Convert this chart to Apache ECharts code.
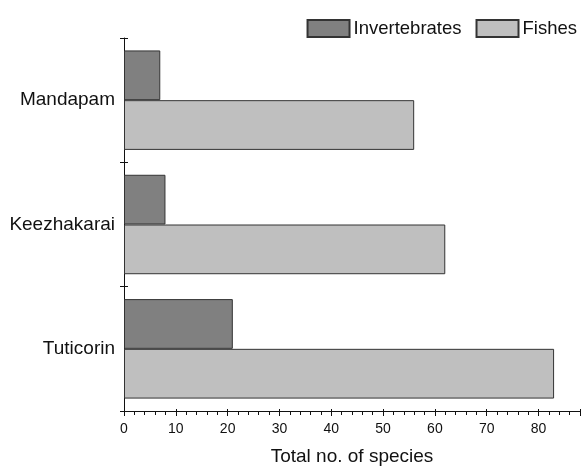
<!DOCTYPE html>
<html>
<head>
<meta charset="utf-8">
<script src="https://cdn.jsdelivr.net/npm/echarts@6/dist/echarts.min.js"></script>
<style>
html,body{margin:0;padding:0;background:#fff;overflow:hidden;}
#chart{width:583px;height:471px;}
</style>
</head>
<body>
<div id="chart"></div>
<script>
// categories from bottom to top
const sites = ['Tuticorin', 'Keezhakarai', 'Mandapam'];
const invertebrates = [21, 8, 7];
const fishes = [83, 62, 56];
const seriesNames = ['Invertebrates', 'Fishes'];
const xTicks = [0, 10, 20, 30, 40, 50, 60, 70, 80];

const chart = echarts.init(document.getElementById('chart'));
const font = 'Liberation Sans, Arial, sans-serif';
const option = {
  backgroundColor: '#fff',
  animation: false,
  legend: {
    data: seriesNames,
    right: 1,
    top: 14,
    itemWidth: 42,
    itemHeight: 17,
    itemGap: 14,
    icon: 'rect',
    textStyle: { fontFamily: font, fontSize: 18.5, color: '#111', padding: [0, 0, 0, -1] }
  },
  grid: { left: 124, top: 38, right: 0, bottom: 57, containLabel: false },
  xAxis: [{
    type: 'value',
    min: 0, max: 88, interval: 10,
    axisLine: { show: true, lineStyle: { color: '#111', width: 1 } },
    axisTick: { show: true, length: 5, lineStyle: { color: '#111' } },
    minorTick: { show: true, splitNumber: 5, length: 4, lineStyle: { color: '#111' } },
    splitLine: { show: false },
    axisLabel: {
      margin: 11, fontFamily: font, fontSize: 14, color: '#111',
      formatter: v => xTicks.indexOf(v) >= 0 ? String(v) : ''
    },
    name: 'Total no. of species',
    nameLocation: 'middle',
    nameGap: 36,
    nameTextStyle: { fontFamily: font, fontSize: 19, color: '#111' }
  }, {
    type: 'value',
    min: 0, max: 88, interval: 10,
    position: 'bottom',
    axisLine: { show: false },
    axisTick: { show: true, inside: true, length: 2, lineStyle: { color: '#111' } },
    splitLine: { show: false },
    axisLabel: { show: false }
  }],
  yAxis: [{
    type: 'category',
    data: sites,
    axisLine: { show: true, lineStyle: { color: '#111', width: 1 } },
    axisTick: { show: true, length: 4, lineStyle: { color: '#111' } },
    axisLabel: { margin: 9, fontFamily: font, fontSize: 19, color: '#111' }
  }, {
    type: 'category',
    data: sites,
    position: 'left',
    axisLine: { show: false },
    axisTick: { show: true, inside: true, length: 4, lineStyle: { color: '#111' } },
    axisLabel: { show: false }
  }],
  series: [{
    name: 'Invertebrates',
    type: 'bar',
    data: invertebrates,
    barGap: '0%',
    barCategoryGap: '20%',
    itemStyle: { color: '#808080', borderColor: '#333', borderWidth: 1 }
  }, {
    name: 'Fishes',
    type: 'bar',
    data: fishes,
    barGap: '0%',
    barCategoryGap: '20%',
    itemStyle: { color: '#bfbfbf', borderColor: '#333', borderWidth: 1 }
  }]
};
chart.setOption(option);
</script>
</body>
</html>
